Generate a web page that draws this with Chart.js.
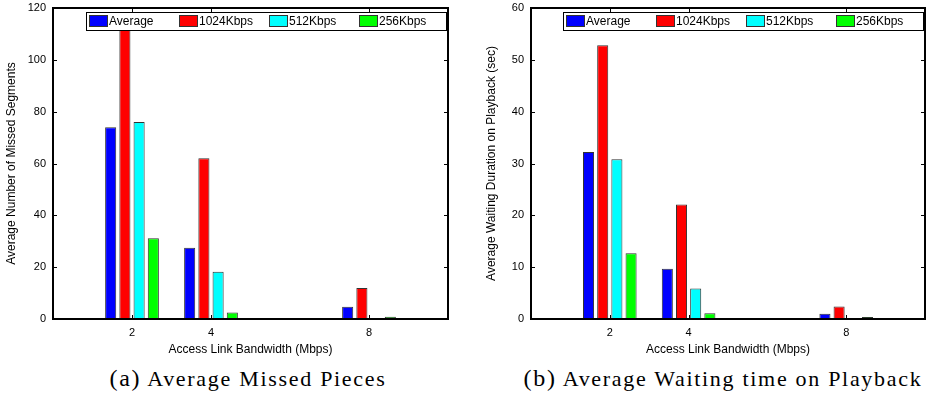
<!DOCTYPE html>
<html>
<head>
<meta charset="utf-8">
<script src="https://cdn.jsdelivr.net/npm/chart.js@4.4.1/dist/chart.umd.min.js"></script>
<style>
  body { margin: 0; background: #fff; }
  #wrap { position: relative; width: 935px; height: 394px; overflow: hidden; }
  .panel { position: absolute; top: 0; height: 362px; }
  #p1 { left: 0; width: 470px; }
  #p2 { left: 470px; width: 465px; }
  .cap { position: absolute; top: 365px; width: 470px; line-height: 26px;
         font-family: "Liberation Serif", "DejaVu Serif", serif; font-size: 22px;
         letter-spacing: 1.7px; text-align: center; color: #000; white-space: nowrap; }
  .cap b { font-weight: normal; font-size: 24px; }
</style>
</head>
<body>
<div id="wrap">
  <div class="panel" id="p1"><canvas id="missedChart"></canvas></div>
  <div class="panel" id="p2"><canvas id="waitChart"></canvas></div>
  <div class="cap" style="left:13px"><b>(a)</b> Average Missed Pieces</div>
  <div class="cap" style="left:488px"><b>(b)</b> Average Waiting time on Playback</div>
</div>
<script>
// x positions (Mbps) and series names
const bandwidths = [2, 4, 8];
const seriesLabels = ['Average', '1024Kbps', '512Kbps', '256Kbps'];
const seriesColors = ['#0000ff', '#ff0000', '#00ffff', '#00ff00'];

// (a) average number of missed segments
const missedAvg = [74, 27.5, 4.7];
const missed1024 = [113, 62, 12];
const missed512 = [76, 18.2, 0.3];
const missed256 = [31.2, 2.5, 0.9];

// (b) average waiting duration on playback (sec)
const waitAvg = [32.2, 9.7, 1.0];
const wait1024 = [52.8, 22.1, 2.4];
const wait512 = [30.8, 5.9, 0.1];
const wait256 = [12.7, 1.1, 0.4];

Chart.defaults.color = '#000';
Chart.defaults.font.family = '"Liberation Sans", Arial, sans-serif';

// matlab-like box, inward ticks and boxed legend inside the axes
const framePlugin = {
    id: 'frame',
    afterDatasetsDraw(chart) {
        const ctx = chart.ctx;
        const a = chart.chartArea;
        const x = chart.scales.x, y = chart.scales.y;
        ctx.save();
        ctx.strokeStyle = '#000';
        ctx.lineWidth = 1;
        ctx.beginPath();
        x.ticks.forEach(t => {
            const px = Math.round(x.getPixelForValue(t.value)) + 0.5;
            ctx.moveTo(px, a.bottom); ctx.lineTo(px, a.bottom - 4);
            ctx.moveTo(px, a.top); ctx.lineTo(px, a.top + 4);
        });
        y.ticks.forEach(t => {
            const py = Math.round(y.getPixelForValue(t.value)) + 0.5;
            ctx.moveTo(a.left, py); ctx.lineTo(a.left + 4, py);
            ctx.moveTo(a.right, py); ctx.lineTo(a.right - 4, py);
        });
        ctx.stroke();
        ctx.lineWidth = 2;
        ctx.strokeRect(a.left, a.top, a.right - a.left, a.bottom - a.top);

        // legend
        const lw = 360, lh = 18;
        const lx = a.right - 2 - lw, ly = a.top + 4;
        ctx.fillStyle = '#fff';
        ctx.fillRect(lx, ly, lw, lh);
        ctx.lineWidth = 1;
        ctx.strokeRect(lx + 0.5, ly + 0.5, lw, lh);
        ctx.font = '12px "Liberation Sans", Arial, sans-serif';
        ctx.textBaseline = 'middle';
        chart.data.datasets.forEach((ds, i) => {
            const bx = lx + 3 + i * 90;
            ctx.fillStyle = ds.backgroundColor;
            ctx.fillRect(bx, ly + 3, 18, 12);
            ctx.strokeStyle = '#333';
            ctx.strokeRect(bx + 0.5, ly + 3.5, 18, 11);
            ctx.fillStyle = '#000';
            ctx.fillText(ds.label, bx + 20, ly + lh / 2 + 1);
        });
        ctx.restore();
    }
};

function makeChart(id, yTitle, yMax, yStep, series, yWidth, yTitlePad, padRight) {
    const datasets = series.map((vals, i) => ({
        label: seriesLabels[i],
        data: bandwidths.map((b, j) => ({ x: b, y: vals[j] })),
        backgroundColor: seriesColors[i],
        borderColor: '#333',
        borderWidth: 1,
        categoryPercentage: 0.72,
        barPercentage: 0.78
    }));
    return new Chart(document.getElementById(id), {
        type: 'bar',
        data: { datasets: datasets },
        options: {
            responsive: true,
            maintainAspectRatio: false,
            animation: false,
            layout: { padding: { top: 8, right: padRight, left: 0, bottom: 0 } },
            plugins: { legend: { display: false }, tooltip: { enabled: false } },
            scales: {
                x: {
                    type: 'linear',
                    min: 0,
                    max: 10,
                    offset: false,
                    grid: { display: false, drawTicks: false },
                    border: { display: false },
                    afterBuildTicks: s => { s.ticks = bandwidths.map(v => ({ value: v })); },
                    afterFit: s => { s.height = 43; s.paddingLeft = 0; s.paddingRight = 0; },
                    ticks: { padding: 7, font: { size: 11 }, maxRotation: 0 },
                    title: {
                        display: true,
                        text: 'Access Link Bandwidth (Mbps)',
                        font: { size: 12 },
                        padding: { top: 0, bottom: 5 }
                    }
                },
                y: {
                    min: 0,
                    max: yMax,
                    grid: { display: false, drawTicks: false },
                    border: { display: false },
                    afterFit: s => { s.width = yWidth; s.paddingTop = 0; s.paddingBottom = 0; },
                    ticks: { stepSize: yStep, padding: 7, font: { size: 11 } },
                    title: {
                        display: true,
                        text: yTitle,
                        font: { size: 12 },
                        padding: { top: yTitlePad, bottom: 0 }
                    }
                }
            }
        },
        plugins: [framePlugin]
    });
}

makeChart('missedChart', 'Average Number of Missed Segments', 120, 20,
    [missedAvg, missed1024, missed512, missed256], 53, 4.5, 22);
makeChart('waitChart', 'Average Waiting Duration on Playback (sec)', 60, 10,
    [waitAvg, wait1024, wait512, wait256], 61, 14, 10);
</script>
</body>
</html>
